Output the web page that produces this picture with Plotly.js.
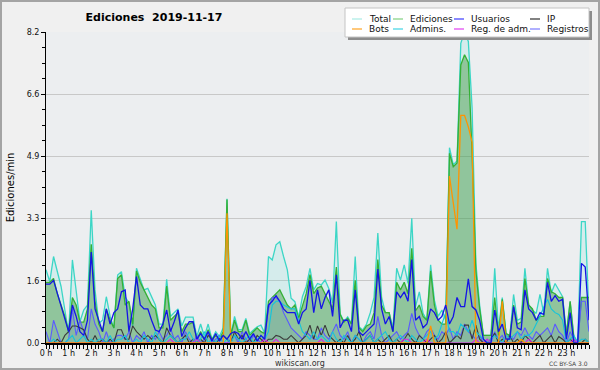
<!DOCTYPE html>
<html><head><meta charset="utf-8">
<script src="https://cdn.plot.ly/plotly-3.0.1.min.js"></script>
<style>
html,body{margin:0;padding:0;background:#f0f0f0;}
#wrap{position:relative;width:600px;height:370px;}
#chart{width:600px;height:370px;}
#frame{position:absolute;left:0;top:0;width:600px;height:370px;box-sizing:border-box;border:2px solid #a4a4a4;pointer-events:none;}
</style></head><body>
<div id="wrap"><div id="chart"></div><div id="frame"></div></div>
<script>
// ---- data (10-minute samples, 00:00 .. 24:00) ----
const hourTickVals = [0,1,2,3,4,5,6,7,8,9,10,11,12,13,14,15,16,17,18,19,20,21,22,23];
const hourLabels = ["0 h","1 h","2 h","3 h","4 h","5 h","6 h","7 h","8 h","9 h","10 h","11 h","12 h","13 h","14 h","15 h","16 h","17 h","18 h","19 h","20 h","21 h","22 h","23 h"];
const yTickVals = [0,1.64,3.28,4.92,6.56,8.2];
const yTickText = ["0.0","1.6","3.3","4.9","6.6","8.2"];

const total = [
1.93,1.62,2.28,1.88,1.49,0.87,0.26,2.19,1.4,0.56,
0.87,1.0,3.5,1.4,0.52,0.6,1.22,0.7,0.39,1.79,
1.88,1.22,1.05,0.43,1.97,1.66,1.4,1.44,1.2,1.0,
0.5,0.5,1.68,0.7,0.8,0.9,0.45,0.68,0.68,0.68,
0.17,0.5,0.17,0.5,0.1,0.3,0.17,0.4,3.8,0.17,
0.7,0.35,0.35,0.65,0.25,0.35,0.43,0.47,0.26,2.28,
2.19,2.59,2.67,2.28,1.93,1.18,1.09,0.69,1.22,1.49,
1.97,1.4,1.57,1.53,1.66,1.44,1.05,3.2,0.78,0.56,
0.69,0.52,2.28,0.43,0.34,0.5,0.8,1.2,2.9,1.2,
0.8,0.8,0.4,1.97,1.66,2.06,1.57,3.29,0.96,1.35,
0.78,0.6,2.06,1.13,0.7,0.87,0.6,5.15,4.7,4.8,
7.9,8.2,7.95,6.2,2.1,1.0,0.2,0.2,0.2,1.97,
0.35,1.2,0.25,0.17,1.28,0.6,0.65,1.97,1.0,0.87,
0.78,1.28,0.78,1.97,1.31,1.57,1.4,1.22,0.26,1.09,
0.17,0.04,3.2,3.2,0.7];

const ediciones = [
1.6,1.6,1.7,1.3,1.0,0.7,0.3,1.2,1.0,0.55,
0.55,0.9,2.6,1.1,0.5,0.3,0.9,0.6,0.4,1.7,
1.8,1.0,1.1,0.5,1.9,1.6,1.4,1.2,1.0,0.9,
0.4,0.4,1.5,0.6,0.7,0.8,0.3,0.5,0.5,0.55,
0.1,0.3,0.1,0.35,0.1,0.2,0.1,0.3,3.78,0.2,
0.6,0.3,0.3,0.6,0.2,0.3,0.4,0.3,0.25,1.1,
1.2,1.3,1.4,1.2,1.0,0.9,1.0,0.65,1.0,1.3,
1.8,1.3,1.45,1.5,1.3,1.1,0.9,2.0,0.75,0.55,
0.65,0.5,1.65,0.4,0.3,0.45,0.5,0.8,2.2,1.0,
0.8,0.8,0.3,1.6,1.4,1.6,1.3,2.5,0.85,1.0,
0.7,0.6,1.9,1.0,0.6,0.5,0.5,5.0,4.65,4.75,
7.33,7.6,7.4,5.0,1.9,0.9,0.2,0.2,0.2,1.2,
0.2,1.15,0.25,0.2,1.0,0.5,0.55,1.7,1.0,0.9,
0.6,0.7,0.7,1.7,1.35,1.3,1.2,1.2,0.2,1.1,
0.1,0.0,1.2,1.2,1.2];

const usuarios = [
1.55,1.55,1.65,1.3,1.0,0.6,0.3,1.0,0.7,0.3,
0.2,0.6,2.4,0.9,0.6,0.3,0.9,0.5,0.8,0.9,
1.35,1.4,0.3,0.9,1.75,1.0,0.9,0.9,0.6,0.34,
0.3,0.5,0.87,0.3,0.56,0.87,0.17,0.4,0.56,0.56,
0.1,0.25,0.1,0.3,0.05,0.25,0.05,0.2,0.1,0.25,
0.3,0.25,0.1,0.3,0.1,0.25,0.05,0.2,0.1,1.0,
1.1,1.25,1.1,0.9,0.8,0.8,0.8,0.5,0.8,0.9,
1.65,0.8,1.4,0.9,1.2,1.4,0.7,1.8,0.4,0.6,
0.6,0.3,1.4,0.3,0.2,0.3,0.4,0.5,1.95,0.9,
0.5,0.7,0.3,1.35,1.2,1.35,1.1,2.2,0.6,0.7,
0.4,0.5,0.9,0.8,0.6,0.7,1.0,0.5,0.7,1.2,
0.96,0.96,1.69,0.96,0.87,0.6,0.1,0.0,0.0,0.87,
0.3,0.5,0.1,0.1,0.96,0.4,0.35,1.4,0.9,0.8,
0.6,0.8,0.75,1.6,1.1,1.25,1.1,1.15,0.1,0.8,
0.0,0.0,2.1,2.0,0.6];

const ip = [
0,0,0,0.1,0,0.2,0.3,0.45,0.45,0.4,
0.35,0.1,0,0.2,0,0.1,0,0.1,0,0.35,
0.35,0.1,0.1,0.45,0.3,0.2,0.1,0.2,0.1,0.2,
0.1,0,0.4,0.2,0.1,0,0.1,0.2,0,0.1,
0,0.1,0,0.2,0.1,0,0.1,0.2,0.1,0,
0.3,0.1,0.2,0,0.1,0,0.2,0.1,0,0.1,
0.1,0.2,0.17,0.1,0.1,0.2,0.1,0,0.1,0.2,
0.47,0.1,0.45,0.2,0.47,0.2,0.1,0,0.1,0,
0.2,0,0.1,0.3,0,0.1,0.2,0,0.1,0,
0.1,0.2,0,0.1,0,0.1,0.25,0.1,0,0.2,
0.1,0,0.1,0.2,0,0.1,0.3,0,0.1,0.2,
0.1,0.47,0.47,0.1,0.47,0.1,0,0,0.1,0.26,
0,0.1,0,0.2,0,0.1,0,0.2,0.1,0,
0.1,0.2,0,0.1,0.2,0,0.17,0.1,0,0.1,
0,0,0,0.1,0];

const bots = [
0,0,0,0,0,0,0,0,0,0,
0,0,0,0,0,0,0,0,0,0,
0,0,0,0,0,0,0,0,0,0,
0,0,0,0,0,0,0,0,0,0,
0,0,0,0,0,0,0,0,3.42,0,
0,0,0,0,0,0,0,0,0,0,
0,0,0,0,0,0,0,0,0,0,
0,0,0,0,0,0,0,0,0,0,
0,0,0,0,0,0,0,0,0,0,
0,0,0,0,0,0,0,0,0,0,
0,0,0.45,0,0,0,0,4.4,3.7,3.0,
6.0,6.0,5.7,5.3,0,0,0,0,0,0,
0,1.1,0,0,0,0,0.1,0,0,0,
0,0,0,0,0,0,0,0,0,0,
0,0,0,0,0];

const admins = [
0,0,0.1,0,0,0,0.1,0.2,0,0.1,
0.2,0,0.1,0,0.1,0.1,0,0.2,0,0.1,
0.1,0.2,0,0,0.1,0,0.2,0.1,0,0.3,
0.1,0,0.1,0.2,0.1,0,0.1,0.1,0.3,0.1,
0,0.1,0.3,0,0.1,0,0.2,0,0.1,0,
0.2,0.1,0,0.1,0.2,0,0.1,0.2,0.1,0.3,
1.0,1.1,1.1,1.0,0.95,0.9,0.9,0.6,0.3,0.2,
0.1,0.3,0.1,0.2,0.1,0,0.3,0.1,0,0.2,
0.1,0,0.2,0.1,0,0.1,0.2,0,0.1,0.2,
0.3,0.1,0,0.1,0.2,0.1,0,0.2,0.1,0,
0.1,0.2,0.3,0.1,0.2,0.5,0.8,0.3,0.3,0.2,
0.5,0.4,0.3,0.6,0.3,0.2,0.1,0,0.1,0.2,
0.1,0,0.2,0.1,0.2,0.3,0.1,0.2,0.2,0.3,
0.5,0.7,0.95,1.15,0.9,0.8,0.75,0.6,0,0.1,
0.2,0,0.1,0.1,0];

const regAdm = [
0,0,0,0,0,0,0,0,0,0,
0,0,0,0,0,0,0,0,0,0,
0,0,0,0,0,0,0,0,0,0,
0,0,0,0.1,0,0,0,0,0,0,
0.1,0,0,0,0,0,0,0,0,0,
0,0,0,0,0,0,0,0,0.1,0,
0,0.1,0,0,0,0,0,0,0,0,
0,0,0,0.1,0,0,0,0,0,0,
0,0,0,0,0,0,0,0,0,0,
0,0,0,0,0,0.1,0.1,0,0,0,
0,0.1,0,0,0,0,0,0,0,0,
0,0,0,0,0.1,0,0,0.1,0,0,
0,0,0,0,0,0,0,0,0.1,0,
0,0,0,0,0,0,0,0,0,0,
0.1,0,0,0,0];

const registros = [
0.3,0,0.6,0.3,0,0,0.1,0.9,0.2,0.6,
0.3,0.1,0.9,0.5,0.3,0,0.3,0,0.1,0.2,
0.2,0.1,0.3,0,0.2,0.1,0.3,0,0.2,0.1,
0.3,0.1,0.2,0.4,0.1,0.2,0,0.3,0.1,0,
0.2,0,0.1,0.3,0,0.1,0.2,0,0,0.1,
0.2,0,0.3,0.1,0,0.2,0.1,0,0.2,0.9,
1.2,1.2,1.1,0.8,0.6,0.4,0.3,0.2,0.1,0.3,
0.2,0.1,0.1,0.4,0.2,0.1,0.3,0.5,0.2,0.1,
0.3,0,0.2,0.1,0,0.2,0.3,0.1,0.7,0.2,
0,0.1,0.2,0.3,0.1,0.2,0.3,0.78,0.4,0.2,
0.1,0.3,0.4,0.2,0.1,0.3,0.2,0.4,0.1,0.3,
0.2,0.5,0.3,0.2,0.1,0.2,0,0.1,0,0.3,
0.1,0.2,0,0.2,0.1,0.3,0.2,0.4,0.2,0.1,
0.3,0.2,0.3,0.4,0.2,0.5,0.3,0.2,0,0.3,
0.1,0,1.1,1.1,0.3];

const seriesNames = ["Total","Ediciones","Usuarios","IP","Bots","Admins.","Reg. de adm.","Registros"];
const lineColors  = ["#3cd6c6","#35b035","#1414e6","#3a3a3a","#ff9400","#14c4dc","#e020e0","#5a5aff"];
const swatchColors= ["#a8ece4","#80d080","#3c3cff","#303030","#ffa424","#40d4e4","#e040f0","#7c7cff"];

// x positions: hours, one sample every 10 minutes
const hours = total.map((_, i) => i / 6);

// ---- plot geometry helpers (pixel -> paper) ----
const L = 46, R = 589, T = 32, B = 343;
const PX = px => (px - L) / (R - L);
const PY = py => (B - py) / (B - T);

function tr(y, idx, opts) {
  return Object.assign({
    x: hours, y: y, type: 'scatter', mode: 'lines', name: seriesNames[idx],
    line: {color: lineColors[idx], width: 1.1}, showlegend: false, hoverinfo: 'skip'
  }, opts || {});
}

const data = [
  tr(total, 0, {fill: 'tozeroy', fillcolor: 'rgba(64,224,208,0.13)', line: {color: lineColors[0], width: 1.3}}),
  tr(ediciones, 1, {fill: 'tozeroy', fillcolor: 'rgba(60,150,60,0.45)', line: {color: lineColors[1], width: 1.3}}),
  tr(registros, 7, {fill: 'tozeroy', fillcolor: 'rgba(90,110,190,0.14)'}),
  tr(ip, 3),
  tr(admins, 5),
  tr(regAdm, 6),
  tr(bots, 4, {line: {color: lineColors[4], width: 1.3}}),
  tr(usuarios, 2, {line: {color: lineColors[2], width: 1.3}})
];

// ---- manual legend (2 rows x 4 columns) ----
const shapes = [
  {type:'rect', xref:'paper', yref:'paper', x0:PX(348), x1:PX(592), y0:PY(40), y1:PY(11), fillcolor:'#8c8c8c', line:{width:0}, layer:'above'},
  {type:'rect', xref:'paper', yref:'paper', x0:PX(345), x1:PX(589), y0:PY(37), y1:PY(8), fillcolor:'#ffffff', line:{color:'#c4c4c4', width:1}, layer:'above'}
];
const annotations = [];
const colX = [352, 393, 454, 530];
const rowY = [19, 29];
const legendOrder = [[0,1,2,3],[4,5,6,7]];
legendOrder.forEach((row, r) => row.forEach((s, c) => {
  shapes.push({type:'line', xref:'paper', yref:'paper', x0:PX(colX[c]), x1:PX(colX[c]+10), y0:PY(rowY[r]), y1:PY(rowY[r]),
               line:{color: swatchColors[s], width: 1.2}, layer:'above'});
  annotations.push({xref:'paper', yref:'paper', x:PX(colX[c]+15), y:PY(rowY[r]), xanchor:'left', yanchor:'middle',
                    text: seriesNames[s], showarrow:false, font:{family:'DejaVu Sans', size:9, color:'#111'}});
}));
annotations.push({xref:'paper', yref:'paper', x:PX(300), y:PY(363.5), xanchor:'center', yanchor:'middle',
                  text:'wikiscan.org', showarrow:false, font:{family:'DejaVu Sans', size:8, color:'#333'}});
annotations.push({xref:'paper', yref:'paper', x:PX(590), y:PY(363.5), xanchor:'right', yanchor:'middle',
                  text:'CC BY-SA 3.0', showarrow:false, font:{family:'DejaVu Sans', size:6, color:'#444'}});

const layout = {
  width: 600, height: 370,
  margin: {l: L, r: 600 - R, t: T, b: 370 - B, pad: 0},
  paper_bgcolor: '#f0f0f0', plot_bgcolor: '#eceef0',
  showlegend: false,
  title: {text: '<b>Ediciones\u00a0\u00a02019-11-17</b>', x: 154/600, xanchor: 'center', xref: 'container',
          y: 1 - 17/370, yanchor: 'middle', yref: 'container', font: {family: 'DejaVu Sans', size: 11, color: '#000'}},
  xaxis: {
    range: [0, 24], tickmode: 'array', tickvals: hourTickVals, ticktext: hourLabels,
    ticks: 'outside', ticklen: 4, tickwidth: 1, tickcolor: '#000', ticklabelstandoff: -3,
    minor: {tickmode: 'linear', tick0: 0, dtick: 1/6, ticks: 'outside', ticklen: 4, tickcolor: '#000', tickwidth: 1, showgrid: false},
    showgrid: false, zeroline: false, showline: true, linecolor: '#000', linewidth: 2,
    tickfont: {family: 'DejaVu Sans', size: 8, color: '#111'}, fixedrange: true
  },
  yaxis: {
    range: [0, 8.2], tickmode: 'array', tickvals: yTickVals, ticktext: yTickText,
    ticks: 'outside', ticklen: 4, tickcolor: '#000',
    minor: {tickmode: 'linear', tick0: 0, dtick: 0.41, ticks: 'outside', ticklen: 3, tickcolor: '#000', showgrid: false},
    showgrid: true, gridcolor: '#c8c8c8', gridwidth: 1, zeroline: false,
    showline: true, linecolor: '#000', linewidth: 1,
    tickfont: {family: 'DejaVu Sans', size: 8, color: '#111'},
    title: {text: 'Ediciones/min', font: {family: 'DejaVu Sans', size: 10, color: '#000'}, standoff: 10},
    fixedrange: true
  },
  shapes: shapes,
  annotations: annotations
};

Plotly.newPlot('chart', data, layout, {staticPlot: true, displayModeBar: false});
</script>
</body></html>
